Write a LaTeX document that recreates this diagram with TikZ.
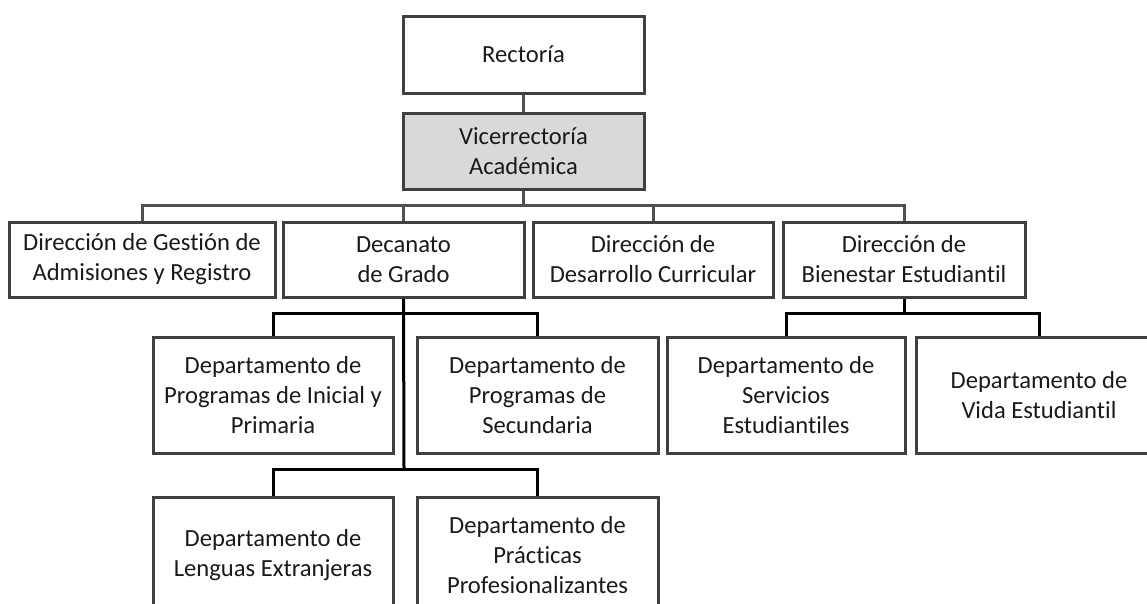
\documentclass[tikz,border=0pt]{standalone}
\usepackage{fontspec}
\setmainfont{Carlito}[Ligatures=NoCommon]
\definecolor{boxline}{HTML}{404040}
\definecolor{busline}{HTML}{505050}
\definecolor{vicefill}{HTML}{D9D9D9}
\definecolor{txt}{HTML}{1A1A1A}
\begin{document}
\begin{tikzpicture}[x=1pt,y=-1pt,
  unit/.style={draw=boxline, line width=3pt, fill=white, rectangle, inner sep=0pt,
    align=center, text=txt, font=\fontsize{24.6}{30}\selectfont},
  toplink/.style={draw=busline, line width=3pt},
  sublink/.style={draw=black, line width=3pt}]
\useasboundingbox (0,0) rectangle (1147,603);
\clip (0,0) rectangle (1147,603);
% top
\node[unit, minimum width=241pt, minimum height=77pt] (rect) at (523.5,54.5) {Rectoría};
\node[unit, fill=vicefill, minimum width=241pt, minimum height=76pt] (vice) at (523.5,151) {Vicerrectoría\\Académica};
% row 2
\node[unit, minimum width=266pt, minimum height=75pt] (adm) at (142,259.5) {Dirección de Gestión de\\Admisiones y Registro};
\node[unit, minimum width=241pt, minimum height=75pt] (dec) at (403.5,259.5) {Decanato\\de Grado};
\node[unit, minimum width=240pt, minimum height=75pt] (des) at (653,259.5) {Dirección de\\Desarrollo Curricular};
\node[unit, minimum width=242pt, minimum height=75pt] (bien) at (904,259.5) {Dirección de\\Bienestar Estudiantil};
% row 3
\node[unit, minimum width=240pt, minimum height=116pt] (ini) at (273,395) {Departamento de\\Programas de Inicial y\\Primaria};
\node[unit, minimum width=241pt, minimum height=116pt] (sec) at (537.5,395) {Departamento de\\Programas de\\Secundaria};
\node[unit, minimum width=238pt, minimum height=116pt] (serv) at (786,395) {Departamento de\\Servicios\\Estudiantiles};
\node[unit, minimum width=246pt, minimum height=116pt] (vida) at (1039,395) {Departamento de\\Vida Estudiantil};
% row 4
\node[unit, minimum width=240pt, minimum height=116pt] (len) at (273,555) {Departamento de\\Lenguas Extranjeras};
\node[unit, minimum width=241pt, minimum height=116pt] (prac) at (537.5,555) {Departamento de\\Prácticas\\Profesionalizantes};
% branch coordinates
\coordinate (bus) at (523.5,205);
\coordinate (b1) at (404,313);
\coordinate (b2) at (404,469);
\coordinate (b3) at (904,313);
% connectors
\draw[toplink] (rect.south) -- (vice.north);
\draw[toplink] (vice.south) -- (bus);
\draw[toplink] (adm.north) -- (adm.north |- bus) -- (bien.north |- bus) -- (bien.north);
\draw[toplink] (dec.north) -- (dec.north |- bus);
\draw[toplink] (des.north) -- (des.north |- bus);
\draw[sublink] (dec.south) -- (b2);
\draw[sublink] (ini.north) -- (ini.north |- b1) -- (sec.north |- b1) -- (sec.north);
\draw[sublink] (len.north) -- (len.north |- b2) -- (prac.north |- b2) -- (prac.north);
\draw[sublink] (bien.south) -- (b3);
\draw[sublink] (serv.north) -- (serv.north |- b3) -- (vida.north |- b3) -- (vida.north);
\end{tikzpicture}
\end{document}
